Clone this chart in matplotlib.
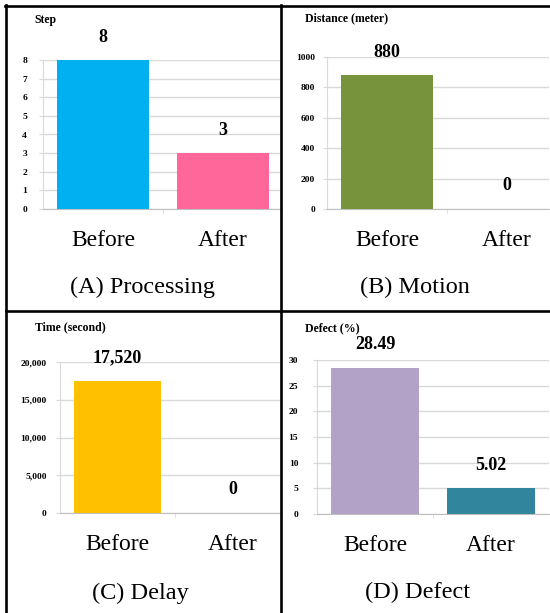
import matplotlib
matplotlib.use('Agg')
import matplotlib.pyplot as plt
from matplotlib.lines import Line2D
from matplotlib.ticker import FuncFormatter

W, H = 550, 613

categories = ['Before', 'After']

steps = [8, 3]
distance = [880, 0]
delay = [17520, 0]
defect = [28.49, 5.02]

step_labels = ['8', '3']
distance_labels = ['880', '0']
delay_labels = ['17,520', '0']
defect_labels = ['28.49', '5.02']

plt.rcParams['font.family'] = ['Liberation Serif', 'DejaVu Serif']


def box(l, t, r, b):
    return [l / W, 1 - b / H, (r - l) / W, (b - t) / H]


def draw_panel(fig, rect, values, labels, colors, ymax, ystep, xmax, ylabel,
               ylabel_xy, caption, caption_xy, fmt=None, tick_pad=9):
    ax = fig.add_axes(rect)
    x = list(range(len(values)))
    ax.bar(x, values, width=0.76, color=colors, zorder=3)
    ax.set_xlim(-0.5, xmax)
    ax.set_ylim(0, ymax)
    ticks = [i * ystep for i in range(int(round(ymax / ystep)) + 1)]
    ax.set_yticks(ticks)
    if fmt is not None:
        ax.yaxis.set_major_formatter(FuncFormatter(fmt))
    ax.grid(axis='y', color='#D9D9D9', linewidth=1.0, zorder=0)
    for s in ['top', 'right']:
        ax.spines[s].set_visible(False)
    ax.spines['left'].set_color('#D9D9D9')
    ax.spines['bottom'].set_color('#BFBFBF')
    ax.tick_params(axis='y', length=3, color='#D9D9D9', pad=tick_pad,
                   labelsize=6.8)
    for t in ax.get_yticklabels():
        t.set_fontweight('bold')
    ax.set_xticks(x)
    ax.set_xticklabels(categories, fontsize=17)
    ax.tick_params(axis='x', length=0, pad=15)
    ax.set_xticks([0.5], minor=True)
    ax.tick_params(axis='x', which='minor', length=3, color='#D9D9D9')
    for xi, v, lab in zip(x, values, labels):
        ax.annotate(lab, (xi, v), xytext=(0, 23), textcoords='offset pixels',
                    ha='center', va='center', fontsize=13, fontweight='bold')
    fig.text(ylabel_xy[0] / W, 1 - ylabel_xy[1] / H, ylabel, ha='center',
             va='center', fontsize=8.5, fontweight='bold')
    fig.text(caption_xy[0] / W, 1 - caption_xy[1] / H, caption, ha='center',
             va='center', fontsize=17.5)
    return ax


fig = plt.figure(figsize=(W / 100, H / 100), dpi=100)

draw_panel(fig, box(43, 60, 280, 209), steps, step_labels,
           ['#00B0F0', '#FF6699'], 8, 1, (280 - 43) / 120 - 0.5,
           'Step', (45, 20), '(A) Processing', (143, 287), tick_pad=8.5)

draw_panel(fig, box(327, 57, 549, 209), distance, distance_labels,
           ['#77933C', '#77933C'], 1000, 200, (549 - 327) / 120 - 0.5,
           'Distance (meter)', (347, 18), '(B) Motion', (415, 287),
           tick_pad=5.5)

draw_panel(fig, box(60, 362, 280, 513), delay, delay_labels,
           ['#FFC000', '#FFC000'], 20000, 5000, (280 - 60) / 115 - 0.5,
           'Time (second)', (70, 327), '(C) Delay', (140, 593),
           fmt=lambda v, p: '{:,.0f}'.format(v), tick_pad=6.5)

draw_panel(fig, box(317, 360, 549, 514), defect, defect_labels,
           ['#B3A2C7', '#31859C'], 30, 5, 1.5,
           'Defect (%)', (332, 328), '(D) Defect', (418, 592), tick_pad=10.5)

# table borders
lw = 1.9
fig.add_artist(Line2D([5 / W, 1], [1 - 5.5 / H, 1 - 5.5 / H], color='black', lw=lw))
fig.add_artist(Line2D([6 / W, 6 / W], [0, 1 - 5 / H], color='black', lw=lw))
fig.add_artist(Line2D([281 / W, 281 / W], [0, 1 - 5 / H], color='black', lw=lw))
fig.add_artist(Line2D([6 / W, 1], [1 - 311 / H, 1 - 311 / H], color='black', lw=lw))

fig.savefig('out.png', dpi=100)
